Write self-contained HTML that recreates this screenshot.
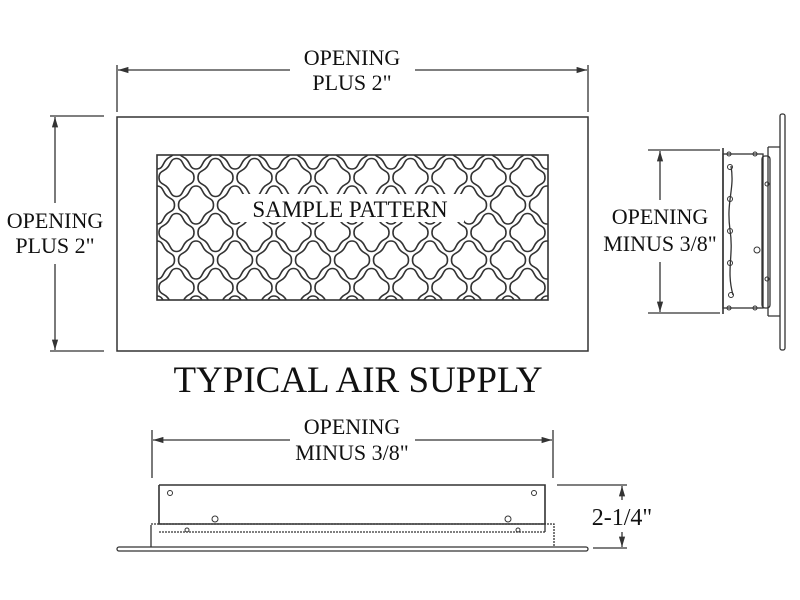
<!DOCTYPE html>
<html><head><style>body{margin:0;background:#fff}svg{display:block}</style></head>
<body>
<svg width="800" height="600" viewBox="0 0 800 600" xmlns="http://www.w3.org/2000/svg" font-family="Liberation Serif, serif" fill="none" stroke="#333" stroke-width="1.3">
<defs>
<marker id="a" viewBox="0 0 10 6" refX="10" refY="3" markerWidth="8" markerHeight="5" orient="auto-start-reverse"><path d="M0,0L10,3L0,6z" fill="#333" stroke="none"/></marker>
<clipPath id="c"><rect x="157" y="155" width="391" height="145"/></clipPath>
<path id="q" d="M0,-19 C6,-19 6,-13 9,-10 C12,-6 17.5,-7 17.5,0 C17.5,7 12,6 9,10 C6,13 6,19 0,19 C-6,19 -6,13 -9,10 C-12,6 -17.5,7 -17.5,0 C-17.5,-7 -12,-6 -9,-10 C-6,-13 -6,-19 0,-19Z"/>
</defs>
<line x1="117" y1="65" x2="117" y2="112"/><line x1="588" y1="65" x2="588" y2="112"/>
<line x1="118" y1="70" x2="290" y2="70" marker-start="url(#a)"/><line x1="415" y1="70" x2="587" y2="70" marker-end="url(#a)"/>
<g fill="#111" stroke="none" font-size="22" text-anchor="middle">
<text x="352" y="65">OPENING</text><text x="352" y="90">PLUS 2"</text>
<text x="55" y="228">OPENING</text><text x="55" y="253">PLUS 2"</text>
<text x="358" y="392" font-size="37">TYPICAL AIR SUPPLY</text>
<text x="660" y="224">OPENING</text><text x="660" y="251">MINUS 3/8"</text>
<text x="352" y="434">OPENING</text><text x="352" y="460">MINUS 3/8"</text>
<text x="622" y="525" font-size="24">2-1/4"</text>
</g>
<line x1="50" y1="116" x2="104" y2="116"/><line x1="50" y1="351" x2="104" y2="351"/>
<line x1="55" y1="117" x2="55" y2="203" marker-start="url(#a)"/><line x1="55" y1="264" x2="55" y2="350" marker-end="url(#a)"/>
<rect x="117" y="117" width="471" height="234" stroke-width="1.5"/>
<rect x="157" y="155" width="391" height="145" stroke-width="1.6"/>
<g clip-path="url(#c)" stroke-width="1.6">
<g id="r1">
<use href="#q" x="157" y="150"/><use href="#q" x="196" y="150"/><use href="#q" x="235" y="150"/><use href="#q" x="274" y="150"/><use href="#q" x="313" y="150"/><use href="#q" x="352" y="150"/><use href="#q" x="391" y="150"/><use href="#q" x="430" y="150"/><use href="#q" x="469" y="150"/><use href="#q" x="508" y="150"/><use href="#q" x="547" y="150"/>
</g>
<use href="#r1" x="19.5" y="27.5"/><use href="#r1" y="55"/><use href="#r1" x="19.5" y="82.5"/><use href="#r1" y="110"/><use href="#r1" x="19.5" y="137.5"/><use href="#r1" y="165"/>
</g>
<rect x="238" y="194" width="226" height="28" fill="#fff" stroke="none"/>
<g fill="#111" stroke="none" font-size="23" text-anchor="middle"><text x="350" y="217">SAMPLE PATTERN</text></g>
<line x1="648" y1="150" x2="720" y2="150"/><line x1="648" y1="313" x2="720" y2="313"/>
<line x1="660" y1="151" x2="660" y2="200" marker-start="url(#a)"/><line x1="660" y1="262" x2="660" y2="312" marker-end="url(#a)"/>
<rect x="780" y="114" width="5" height="236" rx="2"/>
<line x1="723" y1="148" x2="723" y2="314" stroke-width="1.6"/>
<rect x="723" y="154" width="40" height="154"/>
<path d="M768,147 h12 M768,316 h12 M768,147 v169"/>
<rect x="762" y="156" width="8" height="152" rx="3"/>
<path d="M731,166 C735,190 726,200 730,230 C734,255 726,270 733,295"/>
<g stroke-width="1"><circle cx="730" cy="167" r="2.5"/><circle cx="730" cy="199" r="2.5"/><circle cx="730" cy="231" r="2.5"/><circle cx="730" cy="263" r="2.5"/><circle cx="731" cy="295" r="2.5"/><circle cx="757" cy="250" r="3"/><circle cx="767" cy="184" r="2"/><circle cx="767" cy="279" r="2"/><circle cx="729" cy="154" r="2"/><circle cx="755" cy="154" r="2"/><circle cx="729" cy="308" r="2"/><circle cx="755" cy="308" r="2"/></g>
<line x1="152" y1="430" x2="152" y2="478"/><line x1="553" y1="430" x2="553" y2="478"/>
<line x1="153" y1="440" x2="290" y2="440" marker-start="url(#a)"/><line x1="415" y1="440" x2="552" y2="440" marker-end="url(#a)"/>
<rect x="117" y="547" width="471" height="4" rx="2"/>
<path d="M159,485 H545 V524 M159,485 V524 H545" stroke-width="1.6"/>
<path d="M151,524 H554 V547 M159,532 H545" stroke-dasharray="2,1"/>
<path d="M151,547 V525 M545,532 V524"/>
<g stroke-width="1"><circle cx="170" cy="493" r="2.5"/><circle cx="534" cy="493" r="2.5"/><circle cx="215" cy="519" r="3"/><circle cx="508" cy="519" r="3"/><circle cx="187" cy="530" r="2"/><circle cx="518" cy="530" r="2"/></g>
<line x1="557" y1="485" x2="627" y2="485"/><line x1="593" y1="548" x2="627" y2="548"/>
<line x1="622" y1="486" x2="622" y2="500" marker-start="url(#a)"/><line x1="622" y1="532" x2="622" y2="547" marker-end="url(#a)"/>
</svg>
</body></html>
